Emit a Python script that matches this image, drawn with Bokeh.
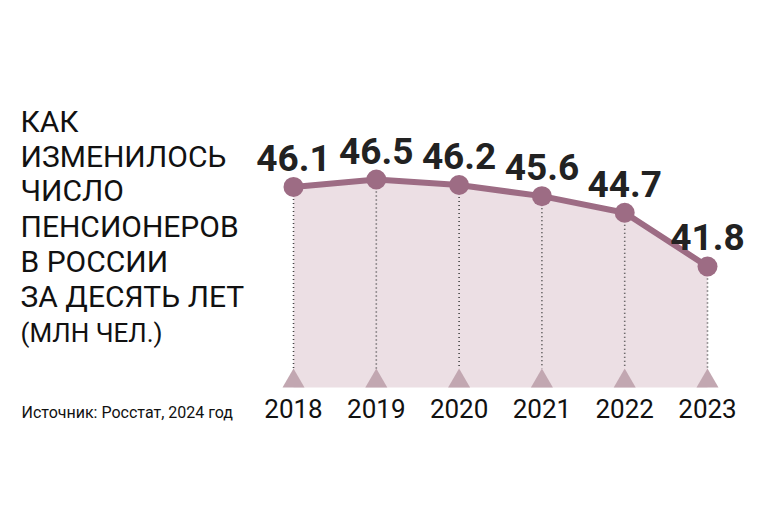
from bokeh.plotting import figure
from bokeh.models import Range1d
from bokeh.core.properties import value
from bokeh.embed import file_html
from bokeh.resources import INLINE

# ---- data ----
years = [2018, 2019, 2020, 2021, 2022, 2023]
pensioners = [46.1, 46.5, 46.2, 45.6, 44.7, 41.8]
value_labels = ["46.1", "46.5", "46.2", "45.6", "44.7", "41.8"]
year_labels = ["2018", "2019", "2020", "2021", "2022", "2023"]
title_lines = ["КАК", "ИЗМЕНИЛОСЬ", "ЧИСЛО", "ПЕНСИОНЕРОВ", "В РОССИИ", "ЗА ДЕСЯТЬ ЛЕТ"]
unit_line = "(МЛН ЧЕЛ.)"
source_text = "Источник: Росстат, 2024 год"

# ---- layout ----
W, H = 770, 510
X0PX, XSTEP = 293.0, 82.8
YREF_V, YREF_PX, YSCALE = 46.5, 179.0, 18.5


def xd(px):
    return years[0] + (px - X0PX) / XSTEP


def yd(px):
    return YREF_V - (px - YREF_PX) / YSCALE


FONT = "Roboto"
LINE_C = "#9d6c84"
FILL_C = "#ecdfe4"
TRI_C = "#c2a7b1"
TEXT_C = "#222222"

p = figure(width=W, height=H, x_range=Range1d(xd(0), xd(W)), y_range=Range1d(yd(H), yd(0)),
           output_backend="svg", toolbar_location=None, min_border=0,
           x_axis_location=None, y_axis_location=None, outline_line_color=None,
           background_fill_color="white", border_fill_color="white")
p.grid.visible = False

base = yd(387)
n = len(years)

p.varea(x=years, y1=[base] * n, y2=pensioners, fill_color=FILL_C)
p.segment(x0=years, y0=pensioners, x1=years, y1=[yd(368)] * n,
          line_color="#444444", line_width=1.6, line_dash="1 3")
p.scatter(x=years, y=[yd(387 - 0.577 * 11)] * n, marker="triangle", size=22,
          fill_color=TRI_C, line_color=None)
p.line(x=years, y=pensioners, line_color=LINE_C, line_width=6, line_join="round")
p.scatter(x=years, y=pensioners, size=20, fill_color=LINE_C, line_color=None)

p.text(x=years, y=pensioners, text=value_labels, y_offset=-29,
       text_align="center", text_baseline="middle",
       text_font=value(FONT), text_font_style="bold", text_font_size="37px", text_color=TEXT_C)

p.text(x=years, y=[yd(407.5)] * n, text=year_labels,
       text_align="center", text_baseline="middle",
       text_font=value(FONT), text_font_size="26px", text_color="#111111")

centers = [121, 155.5, 190, 225.5, 260.5, 295.5]
p.text(x=[xd(20)] * len(title_lines), y=[yd(c) for c in centers], text=title_lines,
       text_align="left", text_baseline="middle",
       text_font=value(FONT), text_font_size="30px", text_color="#111111")
p.text(x=[xd(20)], y=[yd(332)], text=[unit_line],
       text_align="left", text_baseline="middle",
       text_font=value(FONT), text_font_size="26px", text_color="#111111")
p.text(x=[xd(21)], y=[yd(412)], text=[source_text],
       text_align="left", text_baseline="middle",
       text_font=value(FONT), text_font_size="16px", text_color="#111111")

open("out.html", "w").write(file_html(p, INLINE))
